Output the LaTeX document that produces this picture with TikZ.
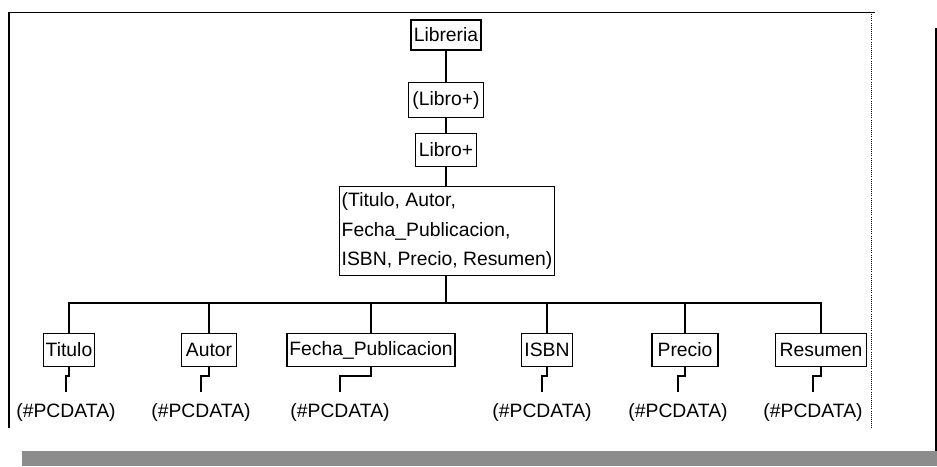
\documentclass[tikz,border=0pt]{standalone}
\usepackage{fontspec}
\setmainfont{Liberation Sans}
\usetikzlibrary{positioning}

\begin{document}
\begin{tikzpicture}[
    x=0.03cm, y=-0.03cm,
    every node/.style={font=\fontsize{16.5}{25.5}\selectfont},
    elem/.style={draw, line width=1.1pt, inner xsep=2pt, inner ysep=0pt, minimum height=1cm},
    pcdata/.style={inner xsep=2pt, inner ysep=9pt},
    link/.style={line width=1.5pt}
]
    \useasboundingbox (0,0) rectangle (937,466);

    % frame of the scanned window
    \fill[black!45] (22,451) rectangle (937,466);
    \draw[line width=1.6pt] (936,28) -- (936,451);
    \draw[line width=1.4pt] (9,12) -- (9,428);
    \draw[line width=0.6pt] (9,12) -- (875,12);
    \draw[densely dotted, line width=0.8pt] (871,12) -- (871,428);

    % root chain
    \node[elem, minimum height=0.9cm, minimum width=2.1cm] (libreria) at (446,35) {Libreria};
    \node[elem, minimum height=1.05cm, minimum width=2.25cm] (seq) at (446,100) {(Libro+)};
    \node[elem, minimum width=1.85cm] (libro) at (446,150) {Libro+};
    \node[elem, align=left, minimum height=2.67cm] (campos) at (447,231)
        {(Titulo, Autor,\\Fecha\_Publicacion,\\ISBN, Precio, Resumen)};

    % child elements
    \node[elem, minimum width=1.55cm] (titulo) at (69,350) {Titulo};
    \node[elem, minimum width=1.65cm] (autor) at (209,350) {Autor};
    \node[elem] (fecha) at (371,350) {Fecha\_Publicacion};
    \node[elem, minimum width=1.55cm] (isbn) at (547,350) {ISBN};
    \node[elem, minimum width=1.98cm] (precio) at (685,350) {Precio};
    \node[elem, minimum width=2.75cm] (resumen) at (821,350) {Resumen};

    % text content
    \node[pcdata] (pc1) at (66,412) {(\#PCDATA)};
    \node[pcdata] (pc2) at (201,412) {(\#PCDATA)};
    \node[pcdata] (pc3) at (340,412) {(\#PCDATA)};
    \node[pcdata] (pc4) at (542,412) {(\#PCDATA)};
    \node[pcdata] (pc5) at (678,412) {(\#PCDATA)};
    \node[pcdata] (pc6) at (813,412) {(\#PCDATA)};

    \draw[link] (libreria) -- (seq) -- (libro) -- (libro |- campos.north);
    \foreach \c in {titulo, autor, fecha, isbn, precio, resumen}
        \draw[link] (libro |- campos.south) -- ++(0,27) -| (\c.north);

    \draw[link] (titulo.south) -- ++(0,9) -| (pc1.north);
    \draw[link] (autor.south) -- ++(0,9) -| (pc2.north);
    \draw[link] (fecha.south) -- ++(0,9) -| (pc3.north);
    \draw[link] (isbn.south) -- ++(0,9) -| (pc4.north);
    \draw[link] (precio.south) -- ++(0,9) -| (pc5.north);
    \draw[link] (resumen.south) -- ++(0,9) -| (pc6.north);
\end{tikzpicture}
\end{document}
